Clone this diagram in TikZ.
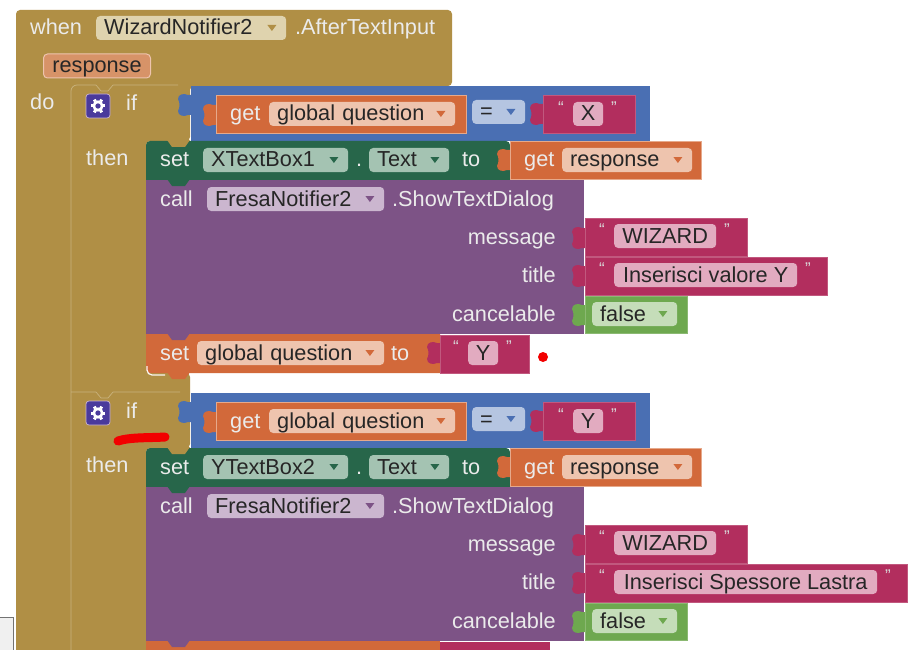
\documentclass[tikz,border=0pt]{standalone}
\usepackage{fontspec}
\setmainfont{Liberation Sans}
\definecolor{goldblk}{HTML}{B08F45}
\definecolor{goldline}{HTML}{C9B37E}
\definecolor{goldchip}{HTML}{DFD3AE}
\definecolor{blueblk}{HTML}{4A6FB3}
\definecolor{bluechip}{HTML}{B5C5E1}
\definecolor{orangeblk}{HTML}{D2693A}
\definecolor{orangechip}{HTML}{EEC4AE}
\definecolor{crimsonblk}{HTML}{B22E5E}
\definecolor{crimsonchip}{HTML}{E2ABC0}
\definecolor{greenblk}{HTML}{27664A}
\definecolor{greenchip}{HTML}{A4C3B2}
\definecolor{purpleblk}{HTML}{7D5386}
\definecolor{purplechip}{HTML}{CBB6CF}
\definecolor{limeblk}{HTML}{6EA84F}
\definecolor{limechip}{HTML}{C5DDB9}
\definecolor{gearblk}{HTML}{4A3A9C}
\tikzstyle{block} = [inner sep=0pt, line width=0.6pt]
\tikzstyle{lbl} = [inner sep=0pt, text height=19pt, text depth=5pt, font=\fontsize{21.7}{24}\selectfont, text=white!92!black]
\tikzstyle{chip} = [lbl, rounded corners=4pt, text=black!85, anchor=west, minimum height=24pt]
\tikzstyle{quote} = [inner sep=0pt, font=\fontsize{17}{17}\selectfont, text=white!85!black]
\tikzset{
  tab/.pic={\fill[#1] (1,-10) -- (-3,-10) .. controls (-7,-12) and (-13,-11) .. (-13,-6) .. controls (-11,-2) and (-11,2) .. (-13,6) .. controls (-13,11) and (-7,12) .. (-3,10) -- (1,10) -- cycle;},
  bump/.pic={\fill[#1] (0,-1) -- (5,6) -- (18,6) -- (23,-1) -- cycle;}
}
% dropdown triangle at the right end of a chip
\newcommand{\ddmark}[2]{\fill[#2] ([xshift=-19pt]#1.east) ++(0,-3) -- ++(9,0) -- ++(-4.5,6) -- cycle;}

\begin{document}
\begin{tikzpicture}[x=1pt, y=-1pt]
  \useasboundingbox (0,0) rectangle (918,650);
  \fill[white] (0,0) rectangle (918,650);

  %% corner of a window on the left
  \draw[black!55, fill=black!6, line width=1pt] (-2,617) rectangle (13,652);

  %% event block with its two if arms
  \fill[goldblk, rounded corners=4pt] (16,670) -- (16,10) -- (452,10) -- (452,86) -- (190,86) -- (190,141) -- (146,141) -- (146,373) -- (190,373) -- (190,448) -- (146,448) -- (146,670) -- cycle;
  \draw[goldline, line width=0.7pt, rounded corners=6pt] (71,650) -- (71,85) -- (96,85);
  \draw[goldline, line width=0.7pt] (96,85) -- (101,91) -- (108,91) -- (113,85) -- (178,85);
  \draw[goldline, line width=0.7pt] (71,392) -- (96,392) -- (101,398) -- (108,398) -- (113,392) -- (180,392);

  \node (when) [lbl, anchor=west] at (30,28) {when};
  \node (wizchip) [chip, fill=goldchip, minimum width=190pt, text width=174pt] at (96,28) {WizardNotifier2};
  \ddmark{wizchip}{goldblk}
  \node (event) [lbl, anchor=west] at (295,28) {.AfterTextInput};
  \node (param) [chip, fill=orangeblk!60!goldchip, draw=orangechip, line width=1pt, minimum width=107pt] at (43,66) {response};
  \node (do) [lbl, anchor=west] at (30,103) {do};

  %% the two if blocks
  \foreach \n/\dy/\qval/\boxname/\ttl/\ttlend in {1/0/X/XTextBox1/Inserisci valore Y/827, 2/307/Y/YTextBox2/Inserisci Spessore Lastra/907} {
    \begin{scope}[yshift=-\dy pt]
      \fill[gearblk, draw=purplechip, rounded corners=3pt, line width=0.7pt] (86,94) rectangle (110,118);
      \draw[white, line width=2.6pt] (98,106) circle (4.2pt);
      \foreach \a in {0,60,...,300} {\draw[white, line width=3pt] (98,106) ++(\a:5pt) -- ++(\a:2.4pt);}
      \node (if\n) [lbl, anchor=west] at (126,104) {if};
      \node (then\n) [lbl, anchor=west] at (86,158) {then};

      % condition
      \pic at (191,105) {tab=blueblk};
      \fill[blueblk, block] (191,86) rectangle (650,141);
      \pic at (216,115) {tab=orangeblk};
      \fill[orangeblk, draw=orangechip!70!orangeblk, block] (216,95) rectangle (466,133);
      \node (get\n) [lbl, anchor=west] at (230,114) {get};
      \node (glob\n) [chip, fill=orangechip, minimum width=186pt, text width=170pt] at (269,114) {global question};
      \ddmark{glob\n}{orangeblk}
      \node (eq\n) [chip, fill=bluechip, minimum width=53pt, text width=37pt] at (472,112) {=};
      \ddmark{eq\n}{blueblk}
      \pic at (543,114) {tab=crimsonblk};
      \fill[crimsonblk, draw=crimsonblk!80!white, block] (543,95) rectangle (635,133);
      \node (qval\n) [chip, fill=crimsonchip, minimum width=30pt, align=center] at (573,114) {\qval};
      \node (qvall\n) [quote] at (561,108) {“};
      \node (qvalr\n) [quote] at (614,108) {”};

      % set text box
      \fill[greenblk, rounded corners=4pt] (146,186) -- (146,141) -- (510,141) -- (510,186) -- cycle;
      \pic at (167,141) {bump=goldblk};
      \fill[purpleblk] (146,180) rectangle (584,334);
      \pic at (167,180) {bump=greenblk};
      \node (set\n) [lbl, anchor=west] at (160,160) {set};
      \node (box\n) [chip, fill=greenchip, minimum width=145pt, text width=129pt] at (203,160) {\boxname};
      \ddmark{box\n}{greenblk}
      \node (dot\n) [lbl, anchor=west] at (356,160) {.};
      \node (txt\n) [chip, fill=greenchip, minimum width=80pt, text width=64pt] at (369,160) {Text};
      \ddmark{txt\n}{greenblk}
      \node (to\n) [lbl, anchor=west] at (462,160) {to};
      \pic at (510,160) {tab=orangeblk};
      \fill[orangeblk, draw=orangechip!70!orangeblk, block] (510,141) rectangle (701,179);
      \node (getr\n) [lbl, anchor=west] at (524,160) {get};
      \node (resp\n) [chip, fill=orangechip, minimum width=130pt, text width=114pt] at (562,160) {response};
      \ddmark{resp\n}{orangeblk}

      % call notifier
      \node (call\n) [lbl, anchor=west] at (160,199) {call};
      \node (fresa\n) [chip, fill=purplechip, minimum width=177pt, text width=161pt] at (207,199) {FresaNotifier2};
      \ddmark{fresa\n}{purpleblk}
      \node (show\n) [lbl, anchor=west] at (392,199) {.ShowTextDialog};
      \node (msg\n) [lbl, anchor=east] at (556,237) {message};
      \node (title\n) [lbl, anchor=east] at (556,275) {title};
      \node (canc\n) [lbl, anchor=east] at (556,314) {cancelable};

      \pic at (585,238) {tab=crimsonblk};
      \fill[crimsonblk, draw=crimsonblk!80!white, block] (585,218) rectangle (747,256);
      \node (wiz\n) [chip, fill=crimsonchip, minimum width=102pt, align=center] at (614,236) {WIZARD};
      \node (wizl\n) [quote] at (602,230) {“};
      \node (wizr\n) [quote] at (727,230) {”};

      \pic at (585,276) {tab=crimsonblk};
      \fill[crimsonblk, draw=crimsonblk!80!white, block] (585,257) rectangle (\ttlend,295);
      \node (ttl\n) [chip, fill=crimsonchip, minimum width=\ttlend pt-644pt, align=center] at (614,275) {\ttl};
      \node (ttll\n) [quote] at (602,269) {“};
      \node (ttlr\n) [quote] at (\ttlend-19,269) {”};

      \pic at (585,315) {tab=limeblk};
      \fill[limeblk, draw=limeblk!80!white, block] (585,296) rectangle (687,333);
      \node (no\n) [chip, fill=limechip, minimum width=85pt, text width=69pt] at (592,314) {false};
      \ddmark{no\n}{limeblk}
    \end{scope}
  }

  %% set global question, first arm
  \fill[orangeblk] (146,334) -- (440,334) -- (440,373) [rounded corners=4pt] -- (146,373) [sharp corners] -- cycle;
  \pic at (167,334) {bump=purpleblk};
  \pic at (167,373) {bump=orangeblk};
  \draw[white!92!goldblk, line width=1.2pt, rounded corners=5pt] (147,366) -- (147,375) -- (165,375);
  \node (setg) [lbl, anchor=west] at (160,353) {set};
  \node (globs) [chip, fill=orangechip, minimum width=187pt, text width=171pt] at (197,353) {global question};
  \ddmark{globs}{orangeblk}
  \node (tog) [lbl, anchor=west] at (391,353) {to};
  \pic at (440,353) {tab=crimsonblk};
  \fill[crimsonblk, draw=crimsonblk!80!white, block] (440,335) rectangle (529,373);
  \node (valy) [chip, fill=crimsonchip, minimum width=30pt, align=center] at (468,353) {Y};
  \node (valyl) [quote] at (456,347) {“};
  \node (valyr) [quote] at (509,347) {”};

  %% top of the next set, second arm
  \fill[orangeblk] (146,641) rectangle (440,650);
  \pic at (167,641) {bump=purpleblk};
  \fill[crimsonblk] (440,642) rectangle (550,650);

  %% marks in red
  \fill[red!95!black] (543,357) circle (5pt);
  \draw[red!95!black, line width=9pt, line cap=round] (118,441) .. controls (130,437) and (150,438) .. (165,437);
\end{tikzpicture}
\end{document}
